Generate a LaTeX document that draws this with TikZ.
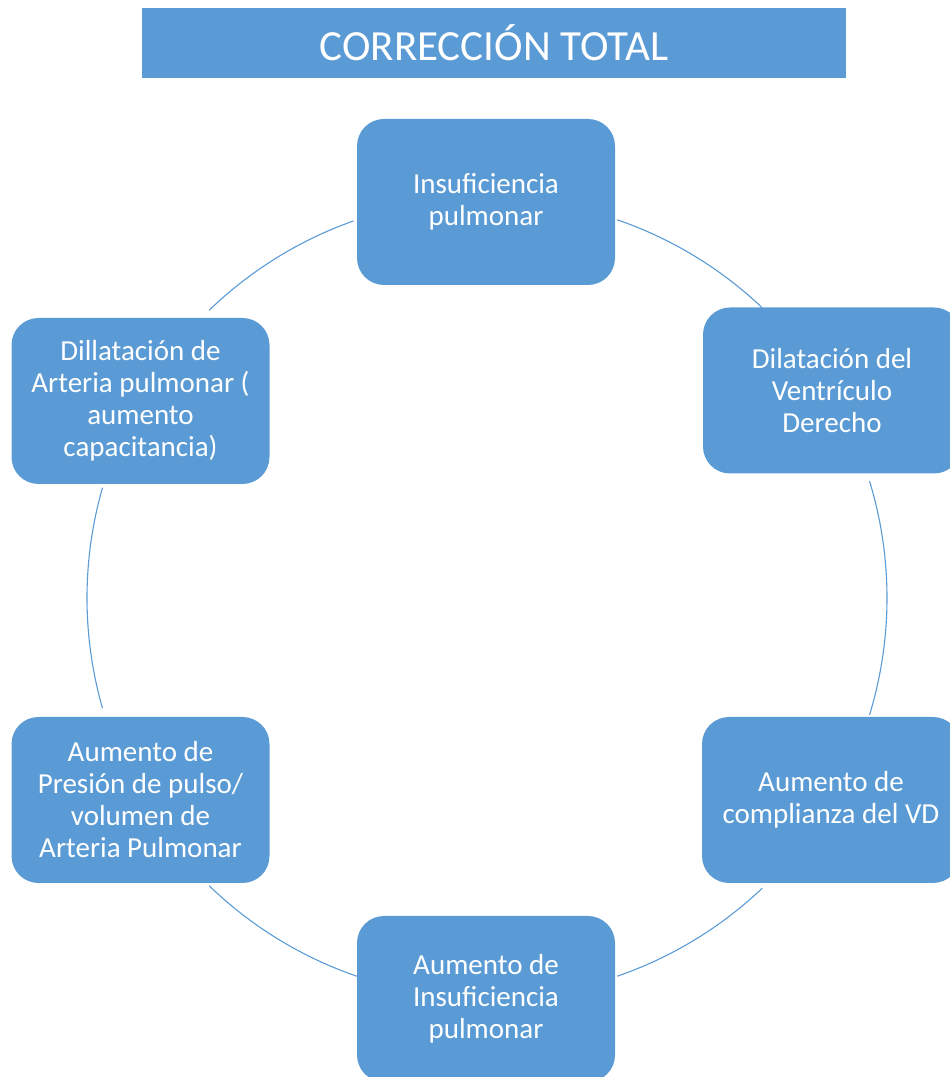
\documentclass[tikz,border=0pt]{standalone}
\usepackage{fontspec}
\setmainfont{Carlito}
\definecolor{officeblue}{HTML}{5B9BD5}
\tikzset{
  cyclebox/.style={fill=officeblue, draw=none, rounded corners=27pt,
    minimum width=258pt, minimum height=166pt, inner sep=0pt,
    text=white, align=center, font=\fontsize{29}{32}\selectfont},
  titlebox/.style={fill=officeblue, draw=none, minimum width=704pt,
    minimum height=70pt, inner sep=0pt, text=white,
    font=\fontsize{43}{50}\selectfont},
  cyclearc/.style={draw=officeblue, line width=1.1pt}
}
\begin{document}
\begin{tikzpicture}[x=1pt,y=1pt]
\useasboundingbox (0,0) rectangle (950,1077);
\clip (0,0) rectangle (950,1077);
\coordinate (c) at (487,479);
\def\R{400}
% connectors (arcs of the cycle)
\draw[cyclearc] ([shift={(71:\R)}]c) arc[start angle=71, end angle=46.5, radius=\R];
\draw[cyclearc] ([shift={(17:\R)}]c) arc[start angle=17, end angle=-17, radius=\R];
\draw[cyclearc] ([shift={(-46.5:\R)}]c) arc[start angle=-46.5, end angle=-71, radius=\R];
\draw[cyclearc] ([shift={(-109:\R)}]c) arc[start angle=-109, end angle=-134, radius=\R];
\draw[cyclearc] ([shift={(-164:\R)}]c) arc[start angle=-164, end angle=-196, radius=\R];
\draw[cyclearc] ([shift={(134:\R)}]c) arc[start angle=134, end angle=109.5, radius=\R];
% title
\node[titlebox] (title) at (494,1034) {CORRECCIÓN TOTAL};
% boxes
\node[cyclebox] (n1) at (486,875) {Insuficiencia\\pulmonar};
\node[cyclebox] (n2) at (832,686.5) {Dilatación del\\Ventrículo\\Derecho};
\node[cyclebox] (n3) at (831,277) {Aumento de\\complianza del VD};
\node[cyclebox] (n4) at (486,78) {Aumento de\\Insuficiencia\\pulmonar};
\node[cyclebox] (n5) at (140.5,277) {Aumento de\\Presión de pulso/\\volumen de\\Arteria Pulmonar};
\node[cyclebox] (n6) at (140.5,676) {Dillatación de\\Arteria pulmonar (\\aumento\\capacitancia)};
\end{tikzpicture}
\end{document}
